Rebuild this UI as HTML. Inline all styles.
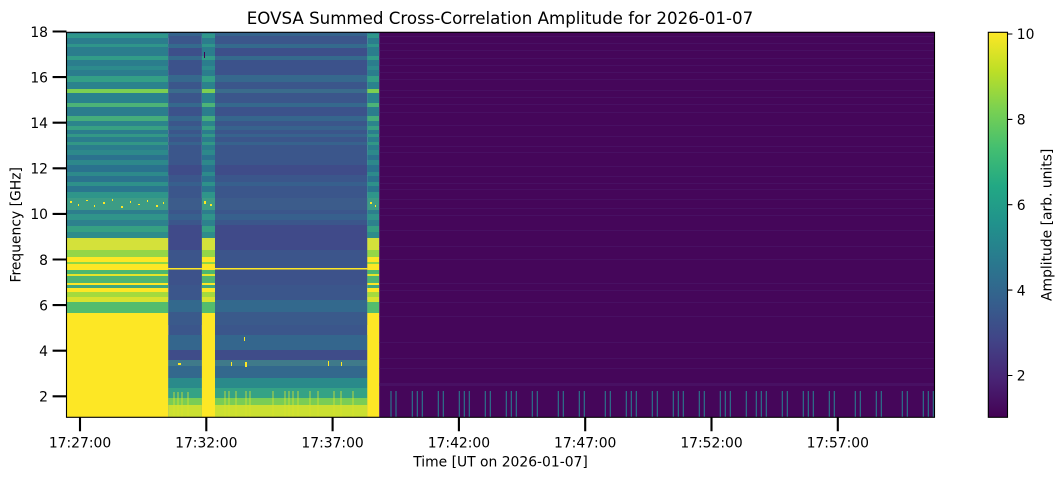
<!DOCTYPE html>
<html>
<head>
<meta charset="utf-8">
<style>
html,body{margin:0;padding:0;background:#fff;}
svg{display:block;}
text{font-family:"DejaVu Sans","Liberation Sans",sans-serif;fill:#000;}
</style>
</head>
<body>
<svg width="1064" height="479" viewBox="0 0 1064 479" xmlns="http://www.w3.org/2000/svg">
<defs>
  <linearGradient id="viridis" x1="0" y1="1" x2="0" y2="0">
    <stop offset="0" stop-color="#440154"/>
    <stop offset="0.1" stop-color="#482475"/>
    <stop offset="0.2" stop-color="#414487"/>
    <stop offset="0.3" stop-color="#355f8d"/>
    <stop offset="0.4" stop-color="#2a788e"/>
    <stop offset="0.5" stop-color="#21918c"/>
    <stop offset="0.6" stop-color="#22a884"/>
    <stop offset="0.7" stop-color="#44bf70"/>
    <stop offset="0.8" stop-color="#7ad151"/>
    <stop offset="0.9" stop-color="#bddf26"/>
    <stop offset="1" stop-color="#fde725"/>
  </linearGradient>
  <g id="bright">
    <rect x="0" y="32" width="1" height="206" fill="#2b7d8d"/>
    <rect x="0" y="34" width="1" height="4" fill="#2f978a"/>
    <rect x="0" y="44" width="1" height="3" fill="#2f958a"/>
    <rect x="0" y="56" width="1" height="4" fill="#329c88"/>
    <rect x="0" y="66" width="1" height="4" fill="#2d8b8c"/>
    <rect x="0" y="76" width="1" height="6" fill="#349f86"/>
    <rect x="0" y="82" width="1" height="7" fill="#2b828d"/>
    <rect x="0" y="89" width="1" height="4" fill="#7ccf52"/>
    <rect x="0" y="93" width="1" height="10" fill="#2a828d"/>
    <rect x="0" y="103" width="1" height="4" fill="#4cb377"/>
    <rect x="0" y="116" width="1" height="5" fill="#45ad7b"/>
    <rect x="0" y="121" width="1" height="5" fill="#2c848c"/>
    <rect x="0" y="126" width="1" height="4" fill="#38a083"/>
    <rect x="0" y="134" width="1" height="3" fill="#339886"/>
    <rect x="0" y="142" width="1" height="3" fill="#329786"/>
    <rect x="0" y="150" width="1" height="5" fill="#2d898b"/>
    <rect x="0" y="155" width="1" height="5" fill="#2b728e"/>
    <rect x="0" y="160" width="1" height="5" fill="#2d888b"/>
    <rect x="0" y="165" width="1" height="7" fill="#2a728e"/>
    <rect x="0" y="172" width="1" height="4" fill="#2d8a8b"/>
    <rect x="0" y="176" width="1" height="6" fill="#2b738e"/>
    <rect x="0" y="182" width="1" height="4" fill="#2e918a"/>
    <rect x="0" y="186" width="1" height="6" fill="#2a768e"/>
    <rect x="0" y="192" width="1" height="6" fill="#2f958a"/>
    <rect x="0" y="198" width="1" height="12" fill="#3d9c85"/>
    <rect x="0" y="210" width="1" height="4" fill="#2d7e8d"/>
    <rect x="0" y="214" width="1" height="6" fill="#30948a"/>
    <rect x="0" y="220" width="1" height="6" fill="#2d818d"/>
    <rect x="0" y="226" width="1" height="6" fill="#36a083"/>
    <rect x="0" y="232" width="1" height="6" fill="#2e8c8b"/>
    <rect x="0" y="238" width="1" height="12" fill="#d4e13a"/>
    <rect x="0" y="250" width="1" height="7" fill="#94d647"/>
    <rect x="0" y="257" width="1" height="5" fill="#fde725"/>
    <rect x="0" y="262" width="1" height="2" fill="#8fd744"/>
    <rect x="0" y="264" width="1" height="6" fill="#fde725"/>
    <rect x="0" y="270" width="1" height="4" fill="#4db76f"/>
    <rect x="0" y="274" width="1" height="2" fill="#e5e42a"/>
    <rect x="0" y="276" width="1" height="7" fill="#4fb570"/>
    <rect x="0" y="283" width="1" height="2" fill="#fde725"/>
    <rect x="0" y="285" width="1" height="3" fill="#3ea77e"/>
    <rect x="0" y="288" width="1" height="4" fill="#fde725"/>
    <rect x="0" y="292" width="1" height="5" fill="#a4da3e"/>
    <rect x="0" y="297" width="1" height="5" fill="#d8e22f"/>
    <rect x="0" y="302" width="1" height="11" fill="#53bc6d"/>
    <rect x="0" y="313" width="1" height="104.5" fill="#fde725"/>
  </g>
  <g id="dark">
    <rect x="0" y="32" width="1" height="385.5" fill="#3b568b"/>
    <rect x="0" y="32" width="1" height="4" fill="#34648d"/>
    <rect x="0" y="44" width="1" height="4" fill="#346a8d"/>
    <rect x="0" y="48" width="1" height="8" fill="#3d4f8a"/>
    <rect x="0" y="56" width="1" height="4" fill="#356a8d"/>
    <rect x="0" y="60" width="1" height="15" fill="#3c528b"/>
    <rect x="0" y="75" width="1" height="7" fill="#36688d"/>
    <rect x="0" y="89" width="1" height="4" fill="#3a6c8c"/>
    <rect x="0" y="103" width="1" height="4" fill="#35698d"/>
    <rect x="0" y="107" width="1" height="9" fill="#3c528b"/>
    <rect x="0" y="116" width="1" height="5" fill="#36668d"/>
    <rect x="0" y="126" width="1" height="4" fill="#37638d"/>
    <rect x="0" y="134" width="1" height="3" fill="#37638d"/>
    <rect x="0" y="142" width="1" height="3" fill="#37638d"/>
    <rect x="0" y="165" width="1" height="10" fill="#3f4c89"/>
    <rect x="0" y="182" width="1" height="4" fill="#37608d"/>
    <rect x="0" y="198" width="1" height="12" fill="#3c5c8b"/>
    <rect x="0" y="214" width="1" height="6" fill="#37608d"/>
    <rect x="0" y="225" width="1" height="25" fill="#404a89"/>
    <rect x="0" y="250" width="1" height="18" fill="#3c558b"/>
    <rect x="0" y="268" width="1" height="1.6" fill="#fde725"/>
    <rect x="0" y="269.6" width="1" height="15.4" fill="#3d528a"/>
    <rect x="0" y="300" width="1" height="12" fill="#33698d"/>
    <rect x="0" y="312" width="1" height="13" fill="#3a5a8b"/>
    <rect x="0" y="335" width="1" height="15" fill="#34668d"/>
    <rect x="0" y="350" width="1" height="10" fill="#3f4c89"/>
    <rect x="0" y="360" width="1" height="6" fill="#3f7a8a"/>
    <rect x="0" y="366" width="1" height="12" fill="#33688d"/>
    <rect x="0" y="378" width="1" height="10" fill="#2a8a8a"/>
    <rect x="0" y="388" width="1" height="10" fill="#35a285"/>
    <rect x="0" y="398" width="1" height="7" fill="#7acd55"/>
    <rect x="0" y="405" width="1" height="12.5" fill="#cbe031"/>
  </g>
</defs>

<text x="500" y="24" font-size="16.67" text-anchor="middle">EOVSA Summed Cross-Correlation Amplitude for 2026-01-07</text>

<use href="#bright" transform="translate(66.5 0) scale(101.8 1)"/>
<use href="#dark" transform="translate(168.3 0) scale(33.6 1)"/>
<use href="#bright" transform="translate(201.9 0) scale(13.1 1)"/>
<use href="#dark" transform="translate(215 0) scale(152.3 1)"/>
<use href="#bright" transform="translate(367.3 0) scale(11.9 1)"/>

<path fill="#fde725" d="M70 201h2v2h-2zM78 204h1v2h-1zM86 200h2v1h-2zM94 205h1v2h-1zM103 202h2v2h-2zM112 199h1v2h-1zM121 206h2v2h-2zM130 201h1v2h-1zM138 204h2v1h-2zM147 200h1v2h-1zM156 205h2v2h-2zM163 202h1v2h-1zM204 201h2v3h-2zM210 204h2v2h-2zM370 202h2v2h-2zM375 205h1v2h-1zM231 362h1v4h-1zM245 362h2v5h-2zM244 337h1v4h-1zM328 361h1v5h-1zM341 362h1v4h-1zM178 363h3v2h-3z"/>

<path stroke="#d7e22b" stroke-width="1" opacity="0.8" fill="none" d="M174 392V417M178 392V417M182 392V417M188 392V417M225 391V417M229 391V417M236 391V417M246 391V417M250 391V417M273 391V417M285 391V417M289 391V417M293 391V417M298 391V417M310 391V417M318 391V417M334 391V417M341 391V417M353 391V417"/>

<rect x="204" y="52" width="1" height="6" fill="#440154"/>

<rect x="379.2" y="32.3" width="555.3" height="385.2" fill="#45065a"/>
<path fill="#4a1a6c" opacity="0.55" d="M379.2 36h555.3v1h-555.3zM379.2 43h555.3v1h-555.3zM379.2 50h555.3v1h-555.3zM379.2 58h555.3v1h-555.3zM379.2 65h555.3v1h-555.3zM379.2 72h555.3v1h-555.3zM379.2 79h555.3v1h-555.3zM379.2 90h555.3v1h-555.3zM379.2 97h555.3v1h-555.3zM379.2 104h555.3v1h-555.3zM379.2 112h555.3v1h-555.3zM379.2 125h555.3v1h-555.3zM379.2 136h555.3v1h-555.3zM379.2 146h555.3v1h-555.3zM379.2 152h555.3v1h-555.3zM379.2 166h555.3v1h-555.3zM379.2 176h555.3v1h-555.3zM379.2 183h555.3v1h-555.3zM379.2 189h555.3v1h-555.3zM379.2 199h555.3v1h-555.3zM379.2 208h555.3v1h-555.3zM379.2 215h555.3v1h-555.3zM379.2 230h555.3v1h-555.3zM379.2 246h555.3v1h-555.3zM379.2 259h555.3v1h-555.3zM379.2 283h555.3v1h-555.3zM379.2 290h555.3v1h-555.3zM379.2 302h555.3v1h-555.3zM379.2 316h555.3v1h-555.3zM379.2 342h555.3v1h-555.3zM379.2 358h555.3v1h-555.3zM379.2 368h555.3v1h-555.3zM379.2 383h555.3v3h-555.3z"/>

<path stroke="#2a7a8e" stroke-width="1.1" fill="none" d="M391 391V417M396 391V417M412.3 391V417M417.3 391V417M422.3 391V417M438.3 391V417M443.3 391V417M459.3 391V417M464.3 391V417M469.3 391V417M485.3 391V417M490.3 391V417M506.3 391V417M511.3 391V417M516.3 391V417M532.3 391V417M537.3 391V417M558.3 391V417M563.3 391V417M579.3 391V417M584.3 391V417M605.3 391V417M610.3 391V417M626.3 391V417M631.3 391V417M636.3 391V417M652.3 391V417M657.3 391V417M673.3 391V417M678.3 391V417M683.3 391V417M699.3 391V417M704.3 391V417M720.3 391V417M725.3 391V417M730.3 391V417M746.3 391V417M756.3 391V417M761.3 391V417M766.3 391V417M782.3 391V417M787.3 391V417M803.3 391V417M808.3 391V417M813.3 391V417M829.3 391V417M834.3 391V417M855.3 391V417M860.3 391V417M876.3 391V417M881.3 391V417M902.3 391V417M907.3 391V417M923.3 391V417M928.3 391V417M933.3 391V417"/>

<rect x="66.5" y="32.3" width="868" height="385" fill="none" stroke="#000" stroke-width="1.1"/>

<path stroke="#000" stroke-width="2.1" fill="none" d="M52.6 31.5H66.5M52.6 77.1H66.5M52.6 122.7H66.5M52.6 168.3H66.5M52.6 213.9H66.5M52.6 259.5H66.5M52.6 305.1H66.5M52.6 350.7H66.5M52.6 396.3H66.5M80 417.3V431.2M206.3 417.3V431.2M332.6 417.3V431.2M458.9 417.3V431.2M585.2 417.3V431.2M711.5 417.3V431.2M837.8 417.3V431.2"/>

<g font-size="13.89" text-anchor="end">
  <text x="48" y="36.8">18</text>
  <text x="48" y="82.4">16</text>
  <text x="48" y="128">14</text>
  <text x="48" y="173.6">12</text>
  <text x="48" y="219.2">10</text>
  <text x="48" y="264.8">8</text>
  <text x="48" y="310.4">6</text>
  <text x="48" y="356">4</text>
  <text x="48" y="401.6">2</text>
</g>

<g font-size="13.89" text-anchor="middle">
  <text x="80" y="447.3">17:27:00</text>
  <text x="206.3" y="447.3">17:32:00</text>
  <text x="332.6" y="447.3">17:37:00</text>
  <text x="458.9" y="447.3">17:42:00</text>
  <text x="585.2" y="447.3">17:47:00</text>
  <text x="711.5" y="447.3">17:52:00</text>
  <text x="837.8" y="447.3">17:57:00</text>
</g>

<text x="500.5" y="466.5" font-size="13.89" text-anchor="middle">Time [UT on 2026-01-07]</text>
<text transform="translate(20.5 224.8) rotate(-90)" font-size="13.89" text-anchor="middle">Frequency [GHz]</text>

<rect x="988.3" y="32.3" width="19.2" height="385" fill="url(#viridis)"/>
<rect x="988.3" y="32.3" width="19.2" height="385" fill="none" stroke="#000" stroke-width="1.1"/>
<path stroke="#000" stroke-width="1.1" fill="none" d="M1007.5 34H1012.4M1007.5 119.4H1012.4M1007.5 204.7H1012.4M1007.5 290.1H1012.4M1007.5 375.5H1012.4"/>
<g font-size="13.89">
  <text x="1016.8" y="39.2">10</text>
  <text x="1016.8" y="124.6">8</text>
  <text x="1016.8" y="209.9">6</text>
  <text x="1016.8" y="295.3">4</text>
  <text x="1016.8" y="380.7">2</text>
</g>
<text transform="translate(1051.3 224.8) rotate(-90)" font-size="13.89" text-anchor="middle">Amplitude [arb. units]</text>
</svg>
</body>
</html>
